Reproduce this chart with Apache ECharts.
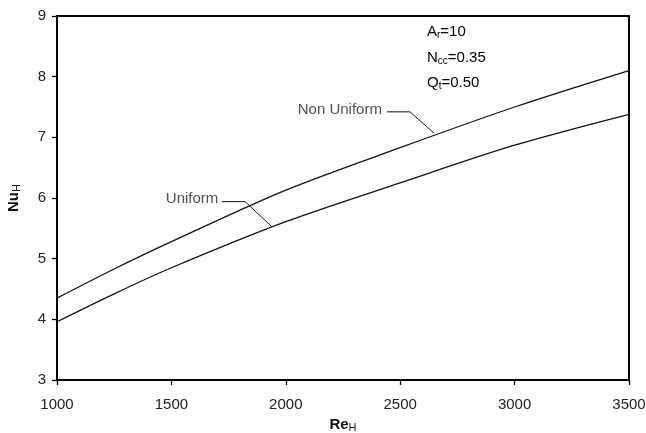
<!DOCTYPE html>
<html><head><meta charset="utf-8">
<script src="https://cdn.jsdelivr.net/npm/echarts@6/dist/echarts.min.js"></script>
<style>html,body{margin:0;padding:0;background:#fff}#c{width:646px;height:433px}</style>
</head><body><div id="c"></div>
<script>
// Data
const reH = [1000, 1250, 1500, 2000, 2500, 3000, 3500];
const nuNonUniform = [4.35, 4.83, 5.28, 6.13, 6.83, 7.50, 8.10];
const nuUniform = [3.96, 4.42, 4.85, 5.61, 6.25, 6.87, 7.38];
const xTicks = [1000, 1500, 2000, 2500, 3000, 3500];
const yTicks = [3, 4, 5, 6, 7, 8, 9];
// annotation leaders (data coordinates)
const leaderNonUniform = [[2442, 7.42], [2543, 7.42], [2648, 7.07]];
const leaderUniform = [[1721, 5.94], [1822, 5.94], [1938, 5.53]];
const labelNonUniform = [2420, 7.45];
const labelUniform = [1705, 5.98];

const FONT = '"Liberation Sans", Arial, sans-serif';
const chart = echarts.init(document.getElementById('c'), null, {renderer: 'canvas'});
const zip = (xs, ys) => xs.map((x, i) => [x, ys[i]]);
const subRich = {
  b: {fontFamily: FONT, fontSize: 15, fontWeight: 'bold', color: '#111'},
  s: {fontFamily: FONT, fontSize: 11, fontWeight: 'normal', color: '#111', padding: [6, 0, 0, 0]}
};
const noteRich = {
  n: {fontFamily: FONT, fontSize: 15, color: '#222'},
  s: {fontFamily: FONT, fontSize: 10, color: '#222', padding: [7, 0, 0, 0]}
};
chart.setOption({
  animation: false,
  backgroundColor: '#fff',
  grid: {left: 57, right: 17, top: 16, bottom: 53, show: true, borderColor: '#000', borderWidth: 2,
         backgroundColor: 'transparent', containLabel: false, outerBoundsMode: 'none'},
  xAxis: {
    type: 'value', min: xTicks[0], max: xTicks[xTicks.length - 1], interval: 500,
    name: '{b|Re}{s|H}', nameLocation: 'middle', nameGap: 36,
    nameTextStyle: {rich: subRich},
    axisLine: {lineStyle: {color: '#000', width: 2}},
    axisTick: {show: true, inside: false, length: 5, lineStyle: {color: '#000', width: 1.3}},
    axisLabel: {fontFamily: FONT, fontSize: 15, color: '#222', margin: 17, formatter: v => String(v)},
    splitLine: {show: false}
  },
  yAxis: {
    type: 'value', min: yTicks[0], max: yTicks[yTicks.length - 1], interval: 1,
    name: '{b|Nu}{s|H}', nameLocation: 'middle', nameGap: 35, nameRotate: 90,
    nameTextStyle: {rich: subRich},
    axisLine: {lineStyle: {color: '#000', width: 2}},
    axisTick: {show: true, inside: false, length: 5, lineStyle: {color: '#000', width: 1.3}},
    axisLabel: {fontFamily: FONT, fontSize: 15, color: '#222', margin: 11, formatter: v => String(v)},
    splitLine: {show: false}
  },
  series: [
    {type: 'line', name: 'Non Uniform', data: zip(reH, nuNonUniform), smooth: 0.3, showSymbol: false,
     lineStyle: {color: '#111', width: 1.3}},
    {type: 'line', name: 'Uniform', data: zip(reH, nuUniform), smooth: 0.3, showSymbol: false,
     lineStyle: {color: '#111', width: 1.3}},
    {type: 'line', data: leaderNonUniform, showSymbol: false, lineStyle: {color: '#111', width: 1}},
    {type: 'line', data: leaderUniform, showSymbol: false, lineStyle: {color: '#111', width: 1}},
    {type: 'scatter', symbolSize: 0,
     data: [{value: labelNonUniform, label: {formatter: 'Non Uniform'}}, {value: labelUniform, label: {formatter: 'Uniform'}}],
     label: {show: true, position: 'left', distance: 0, fontFamily: FONT, fontSize: 15, color: '#222'}}
  ],
  graphic: [
    {type: 'text', left: 427, top: 24, style: {text: '{n|A}{s|r}{n|=10}', rich: noteRich}},
    {type: 'text', left: 427, top: 50, style: {text: '{n|N}{s|cc}{n|=0.35}', rich: noteRich}},
    {type: 'text', left: 427, top: 75, style: {text: '{n|Q}{s|t}{n|=0.50}', rich: noteRich}}
  ]
});
</script></body></html>
